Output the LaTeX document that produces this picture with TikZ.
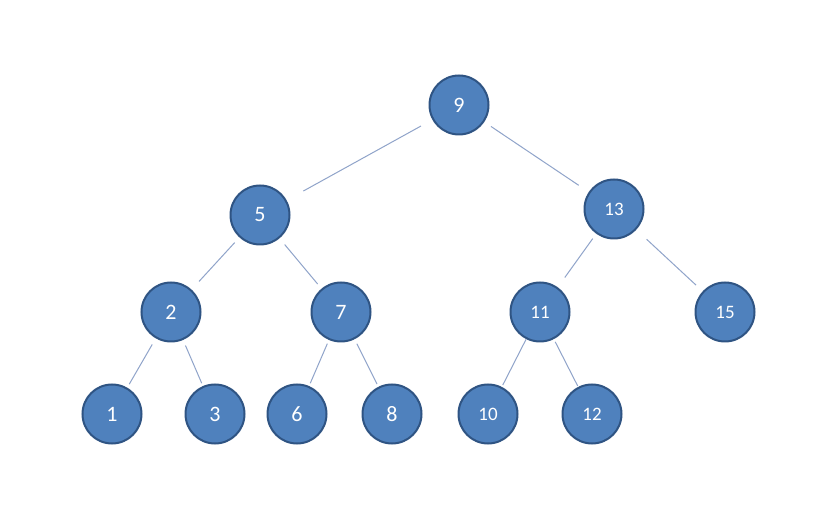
\documentclass[tikz,border=0pt]{standalone}
\usepackage{fontspec}
\setmainfont{Carlito}
\definecolor{nodefill}{HTML}{4F81BD}
\definecolor{nodeline}{HTML}{2F5483}
\definecolor{edgecol}{HTML}{90A4CA}
\begin{document}
\begin{tikzpicture}[x=1pt,y=-1pt,
  tnode/.style={circle,draw=nodeline,line width=2pt,fill=nodefill,minimum size=59pt,inner sep=0pt,text=white,font=\fontsize{22}{24}\selectfont},
  tnodetwo/.style={tnode,font=\fontsize{19}{21}\selectfont},
  edge/.style={draw=edgecol,line width=1pt}]
\useasboundingbox[fill=white] (0,0) rectangle (839,529);
\node[tnode] (n9) at (459,105) {9};
\node[tnode] (n5) at (260,215) {5};
\node[tnodetwo] (n13) at (614,209) {13};
\node[tnode] (n2) at (171,312) {2};
\node[tnode] (n7) at (341,312) {7};
\node[tnodetwo] (n11) at (540,312) {11};
\node[tnodetwo] (n15) at (725,312) {15};
\node[tnode] (n1) at (112,414) {1};
\node[tnode] (n3) at (215,414) {3};
\node[tnode] (n6) at (297,414) {6};
\node[tnode] (n8) at (392,414) {8};
\node[tnodetwo] (n10) at (488,414) {10};
\node[tnodetwo] (n12) at (592,414) {12};
\draw[edge,shorten <=13pt,shorten >=19pt] (n9) -- (n5);
\draw[edge,shorten <=8pt,shorten >=12pt] (n9) -- (n13);
\draw[edge,shorten <=7pt,shorten >=11pt] (n5) -- (n2);
\draw[edge,shorten <=8pt,shorten >=6pt] (n5) -- (n7);
\draw[edge,shorten <=6pt,shorten >=12pt] (n13) -- (n11);
\draw[edge,shorten <=14pt,shorten >=9pt] (n13) -- (n15);
\draw[edge,shorten <=7pt,shorten >=4pt] (n2) -- (n1);
\draw[edge,shorten <=6pt,shorten >=3pt] (n2) -- (n3);
\draw[edge,shorten <=4pt,shorten >=3pt] (n7) -- (n6);
\draw[edge,shorten <=5pt,shorten >=3pt] (n7) -- (n8);
\draw[edge,shorten <=0pt,shorten >=2pt] (n11) -- (n10);
\draw[edge,shorten <=3pt,shorten >=1pt] (n11) -- (n12);
\end{tikzpicture}
\end{document}
